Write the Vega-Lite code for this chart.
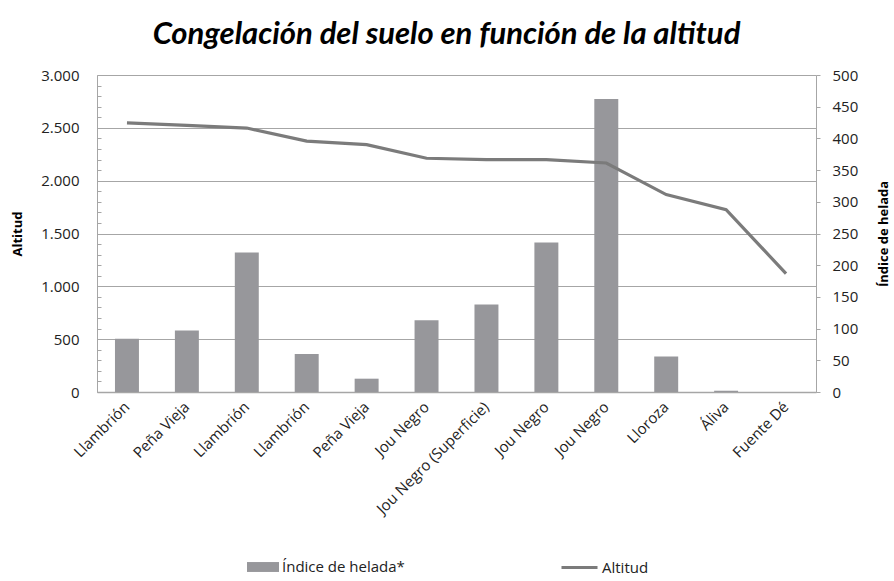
{
  "$schema": "https://vega.github.io/schema/vega-lite/v6.json",
  "width": 719,
  "height": 317,
  "autosize": {"type": "none"},
  "padding": {"left": 97, "top": 75, "right": 78, "bottom": 189},
  "background": "#ffffff",
  "title": {
    "text": "Congelación del suelo en función de la altitud",
    "font": "Lato",
    "fontSize": 31,
    "fontWeight": "bold",
    "fontStyle": "italic",
    "color": "#000000",
    "anchor": "middle",
    "frame": "group",
    "dx": -10,
    "offset": 17
  },
  "data": {
    "values": [
      {"clave": "Llambrión|01", "indice": 84, "altitud": 2546},
      {"clave": "Peña Vieja|02", "indice": 97, "altitud": 2524},
      {"clave": "Llambrión|03", "indice": 220, "altitud": 2498},
      {"clave": "Llambrión|04", "indice": 60, "altitud": 2375},
      {"clave": "Peña Vieja|05", "indice": 21, "altitud": 2341},
      {"clave": "Jou Negro|06", "indice": 113, "altitud": 2212},
      {"clave": "Jou Negro (Superficie)|07", "indice": 138, "altitud": 2200},
      {"clave": "Jou Negro|08", "indice": 236, "altitud": 2199},
      {"clave": "Jou Negro|09", "indice": 462, "altitud": 2167},
      {"clave": "Lloroza|10", "indice": 56, "altitud": 1868},
      {"clave": "Áliva|11", "indice": 2, "altitud": 1726},
      {"clave": "Fuente Dé|12", "indice": 0, "altitud": 1120}
    ]
  },
  "encoding": {
    "x": {
      "field": "clave",
      "type": "ordinal",
      "sort": null,
      "scale": {"paddingInner": 0.6, "paddingOuter": 0.3},
      "axis": {
        "title": null,
        "labelExpr": "slice(datum.value, 0, -3)",
        "labelAngle": -45,
        "labelAlign": "right",
        "labelBaseline": "middle",
        "labelFont": "Open Sans",
        "labelFontSize": 15,
        "labelColor": "#222222",
        "labelPadding": 12,
        "ticks": false,
        "domainColor": "#a6a6a6",
        "domainWidth": 1.5
      }
    }
  },
  "layer": [
    {
      "mark": {"type": "bar"},
      "encoding": {
        "y": {
          "field": "indice",
          "type": "quantitative",
          "scale": {"domain": [0, 500]},
          "axis": {
            "orient": "right",
            "title": "Índice de helada",
            "titleAngle": -90,
            "titleFont": "Open Sans",
            "titleFontSize": 13,
            "titleFontWeight": "bold",
            "titleColor": "#000000",
            "titlePadding": 33,
            "values": [0, 50, 100, 150, 200, 250, 300, 350, 400, 450, 500],
            "labelFont": "Open Sans",
            "labelFontSize": 15,
            "labelColor": "#222222",
            "labelPadding": 12,
            "tickSize": 4,
            "tickColor": "#a6a6a6",
            "domainColor": "#a6a6a6",
            "grid": false,
            "labelOverlap": false
          }
        },
        "fill": {
          "datum": "Índice de helada*",
          "scale": {"range": ["#97979b"]},
          "legend": {
            "title": null,
            "orient": "none",
            "legendX": 150,
            "legendY": 476,
            "symbolType": "M-1,-0.31H1V0.31H-1Z",
            "symbolSize": 1024,
            "symbolStrokeWidth": 0,
            "labelFont": "Open Sans",
            "labelFontSize": 15,
            "labelColor": "#222222",
            "labelOffset": 3
          }
        }
      }
    },
    {
      "mark": {"type": "line", "strokeWidth": 3.2},
      "encoding": {
        "y": {
          "field": "altitud",
          "type": "quantitative",
          "scale": {"domain": [0, 3000]},
          "axis": {
            "orient": "left",
            "title": "Altitud",
            "titleFont": "Open Sans",
            "titleFontSize": 13,
            "titleFontWeight": "bold",
            "titleColor": "#000000",
            "titlePadding": 16,
            "values": [0, 100, 200, 300, 400, 500, 600, 700, 800, 900, 1000, 1100, 1200, 1300, 1400, 1500, 1600, 1700, 1800, 1900, 2000, 2100, 2200, 2300, 2400, 2500, 2600, 2700, 2800, 2900, 3000],
            "labelExpr": "datum.value % 500 === 0 ? replace(format(datum.value, ','), ',', '.') : ''",
            "labelOverlap": false,
            "labelFont": "Open Sans",
            "labelFontSize": 15,
            "labelColor": "#222222",
            "labelPadding": 22,
            "tickSize": -4,
            "tickColor": "#a6a6a6",
            "domainColor": "#a6a6a6",
            "grid": true,
            "gridColor": "#a6a6a6",
            "gridWidth": 1.2,
            "gridOpacity": {"condition": {"test": "datum.value % 500 === 0", "value": 1}, "value": 0}
          }
        },
        "stroke": {
          "datum": "Altitud",
          "scale": {"range": ["#7b7b7b"]},
          "legend": {
            "title": null,
            "orient": "none",
            "legendX": 463,
            "legendY": 473,
            "symbolType": "stroke",
            "symbolSize": 1296,
            "symbolStrokeWidth": 3,
            "labelFont": "Open Sans",
            "labelFontSize": 15,
            "labelColor": "#222222",
            "labelOffset": 3
          }
        }
      }
    }
  ],
  "resolve": {"scale": {"y": "independent"}},
  "config": {
    "view": {"stroke": null}
  }
}
